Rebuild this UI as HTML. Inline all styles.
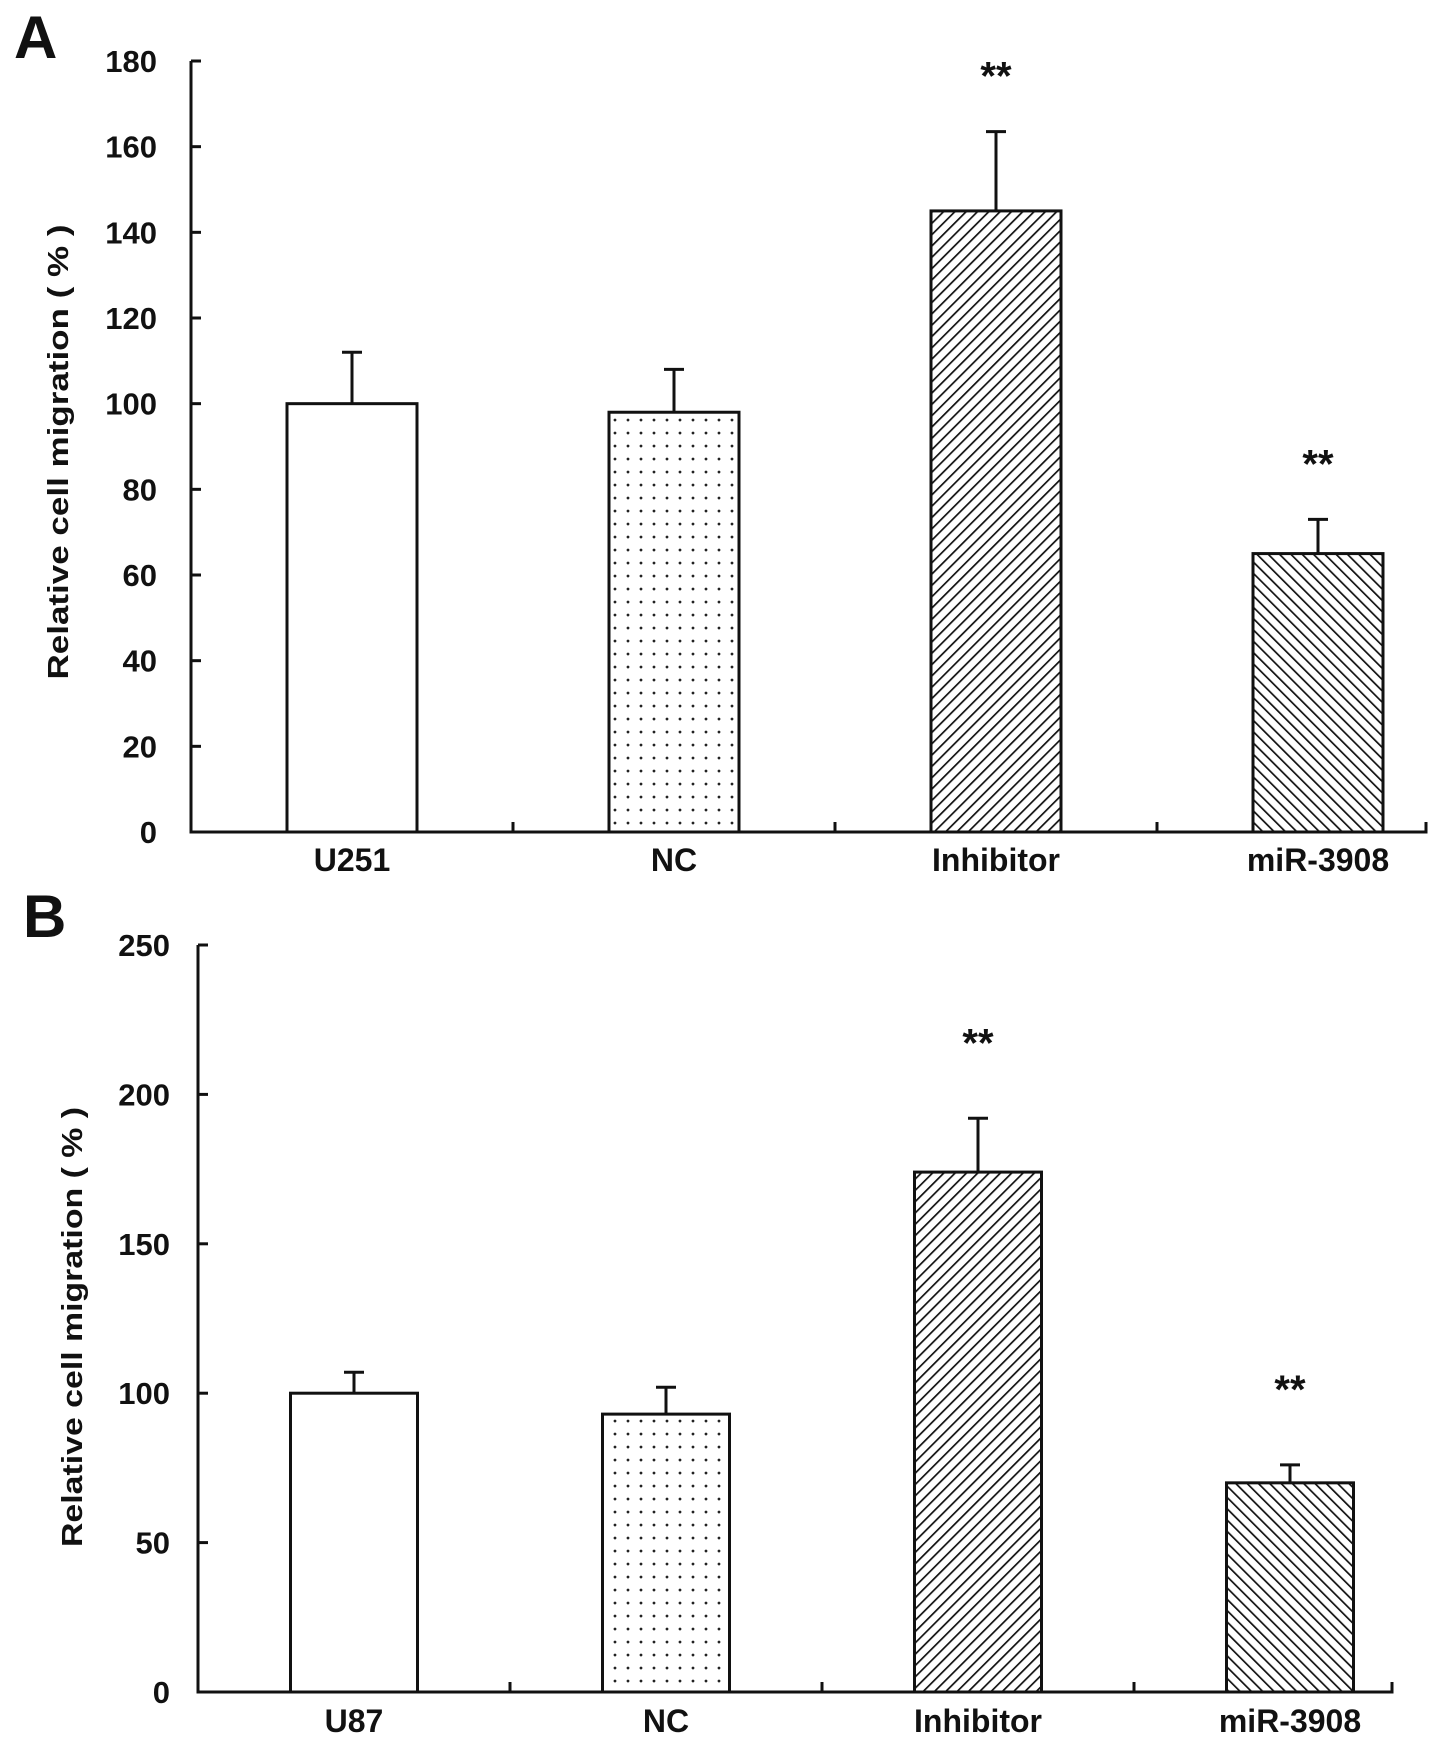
<!DOCTYPE html>
<html><head><meta charset="utf-8"><style>
html,body{margin:0;padding:0;background:#fff}
svg{display:block}
text{font-family:"Liberation Sans",Arial,sans-serif;font-weight:bold;fill:#111}
</style></head><body>
<svg id="chart" width="1441" height="1747" viewBox="0 0 1441 1747" xmlns="http://www.w3.org/2000/svg">
<defs>
<pattern id="dots" width="13" height="13" patternUnits="userSpaceOnUse"><circle cx="4" cy="4" r="1.4" fill="#222"/></pattern>
<pattern id="hatchF" width="8" height="8" patternUnits="userSpaceOnUse" patternTransform="rotate(45)"><line x1="0" y1="0" x2="0" y2="8" stroke="#111" stroke-width="3.4"/></pattern>
<pattern id="hatchB" width="8" height="8" patternUnits="userSpaceOnUse" patternTransform="rotate(-45)"><line x1="0" y1="0" x2="0" y2="8" stroke="#111" stroke-width="3.4"/></pattern>
</defs>
</svg>
<script>
const categoriesA = ["U251","NC","Inhibitor","miR-3908"];
const valuesA = [100, 98, 145, 65];
const errorsA = [12, 10, 18.5, 8];
const ticksA = [0,20,40,60,80,100,120,140,160,180];
const starsA = [false,false,true,true];

const categoriesB = ["U87","NC","Inhibitor","miR-3908"];
const valuesB = [100, 93, 174, 70];
const errorsB = [7, 9, 18, 6];
const ticksB = [0,50,100,150,200,250];
const starsB = [false,false,true,true];

const fills = ["#fff","url(#dots)","url(#hatchF)","url(#hatchB)"];
const svg = document.getElementById('chart');
const NS = "http://www.w3.org/2000/svg";
function mk(tag, attrs, parent){
  const e = document.createElementNS(NS, tag);
  for (const k in attrs) e.setAttribute(k, attrs[k]);
  (parent||svg).appendChild(e);
  return e;
}

function panel(cfg){
  const g = mk('g', {});
  
  
  const yMax = cfg.ticks[cfg.ticks.length-1];
  const yS = v => cfg.y0 - (cfg.y0 - cfg.yTop) * v / yMax;
  const xS = i => cfg.x0 + cfg.step * (i + 0.5);

  const lbl = mk('text', {x: cfg.lx, y: cfg.ly, 'font-size': 60}, g);
  lbl.textContent = cfg.letter;
  
  

  const yt = mk('text', {x: cfg.titleX, y: cfg.titleY, 'font-size': 29, 'text-anchor': 'middle',
    transform: `rotate(-90 ${cfg.titleX} ${cfg.titleY})`, textLength: cfg.titleLen, lengthAdjust: 'spacingAndGlyphs'}, g);
  yt.textContent = "Relative cell migration ( % )";
  
  

  cfg.values.forEach((v, i) => {
    const cx = xS(i);
    const bw = cfg.bw;
    const top = yS(v);
    const r = mk('rect', {x: cx - bw/2, y: top, width: bw, height: cfg.y0 - top, fill: fills[i], stroke: '#111', 'stroke-width': 3}, g);
    
    
    const et = yS(v + cfg.errs[i]);
    const eb = mk('path', {d: `M${cx} ${top} V${et} M${cx-10} ${et} H${cx+10}`, stroke: '#111', 'stroke-width': 3, fill: 'none'}, g);
    
    
    if (cfg.stars[i]) {
      const s = mk('text', {x: cx, y: et - cfg.starGap, 'font-size': 40, 'text-anchor': 'middle'}, g);
      s.textContent = "**";
      
      
    }
    const xl = mk('text', {x: cx, y: cfg.xlY, 'font-size': 32, 'text-anchor': 'middle'}, g);
    xl.textContent = cfg.cats[i];
    
    
  });

  const ax = mk('path', {d: `M${cfg.x0} ${cfg.yTop} V${cfg.y0} H${cfg.xEnd} V${cfg.y0-10}`, stroke: '#111', 'stroke-width': 3, fill: 'none'}, g);
  
  
  for (let i = 1; i < cfg.values.length; i++) {
    const tx = cfg.x0 + cfg.step * i;
    const t = mk('line', {x1: tx, x2: tx, y1: cfg.y0, y2: cfg.y0 - 10, stroke: '#111', 'stroke-width': 3}, g);
    
    
  }
  cfg.ticks.forEach(tv => {
    const y = yS(tv);
    const t = mk('line', {x1: cfg.x0, x2: cfg.x0 + 10, y1: y, y2: y, stroke: '#111', 'stroke-width': 3}, g);
    
    
    const tl = mk('text', {x: cfg.tlX, y: y + 11, 'font-size': 31, 'text-anchor': 'end'}, g);
    tl.textContent = tv;
    
    
  });
}

panel({id:'panel-a', letter:'A', lx:14, ly:58, cats:categoriesA, values:valuesA, errs:errorsA, ticks:ticksA, stars:starsA,
  x0:191, xEnd:1426, step:322, bw:130, y0:832, yTop:61, tlX:157, titleX:68, titleY:452, titleLen:455, xlY:871, starGap:42});
panel({id:'panel-b', letter:'B', lx:23, ly:937, cats:categoriesB, values:valuesB, errs:errorsB, ticks:ticksB, stars:starsB,
  x0:198, xEnd:1392, step:312, bw:127, y0:1692, yTop:945, tlX:170, titleX:82, titleY:1327, titleLen:440, xlY:1732, starGap:62});
</script>
</body></html>
